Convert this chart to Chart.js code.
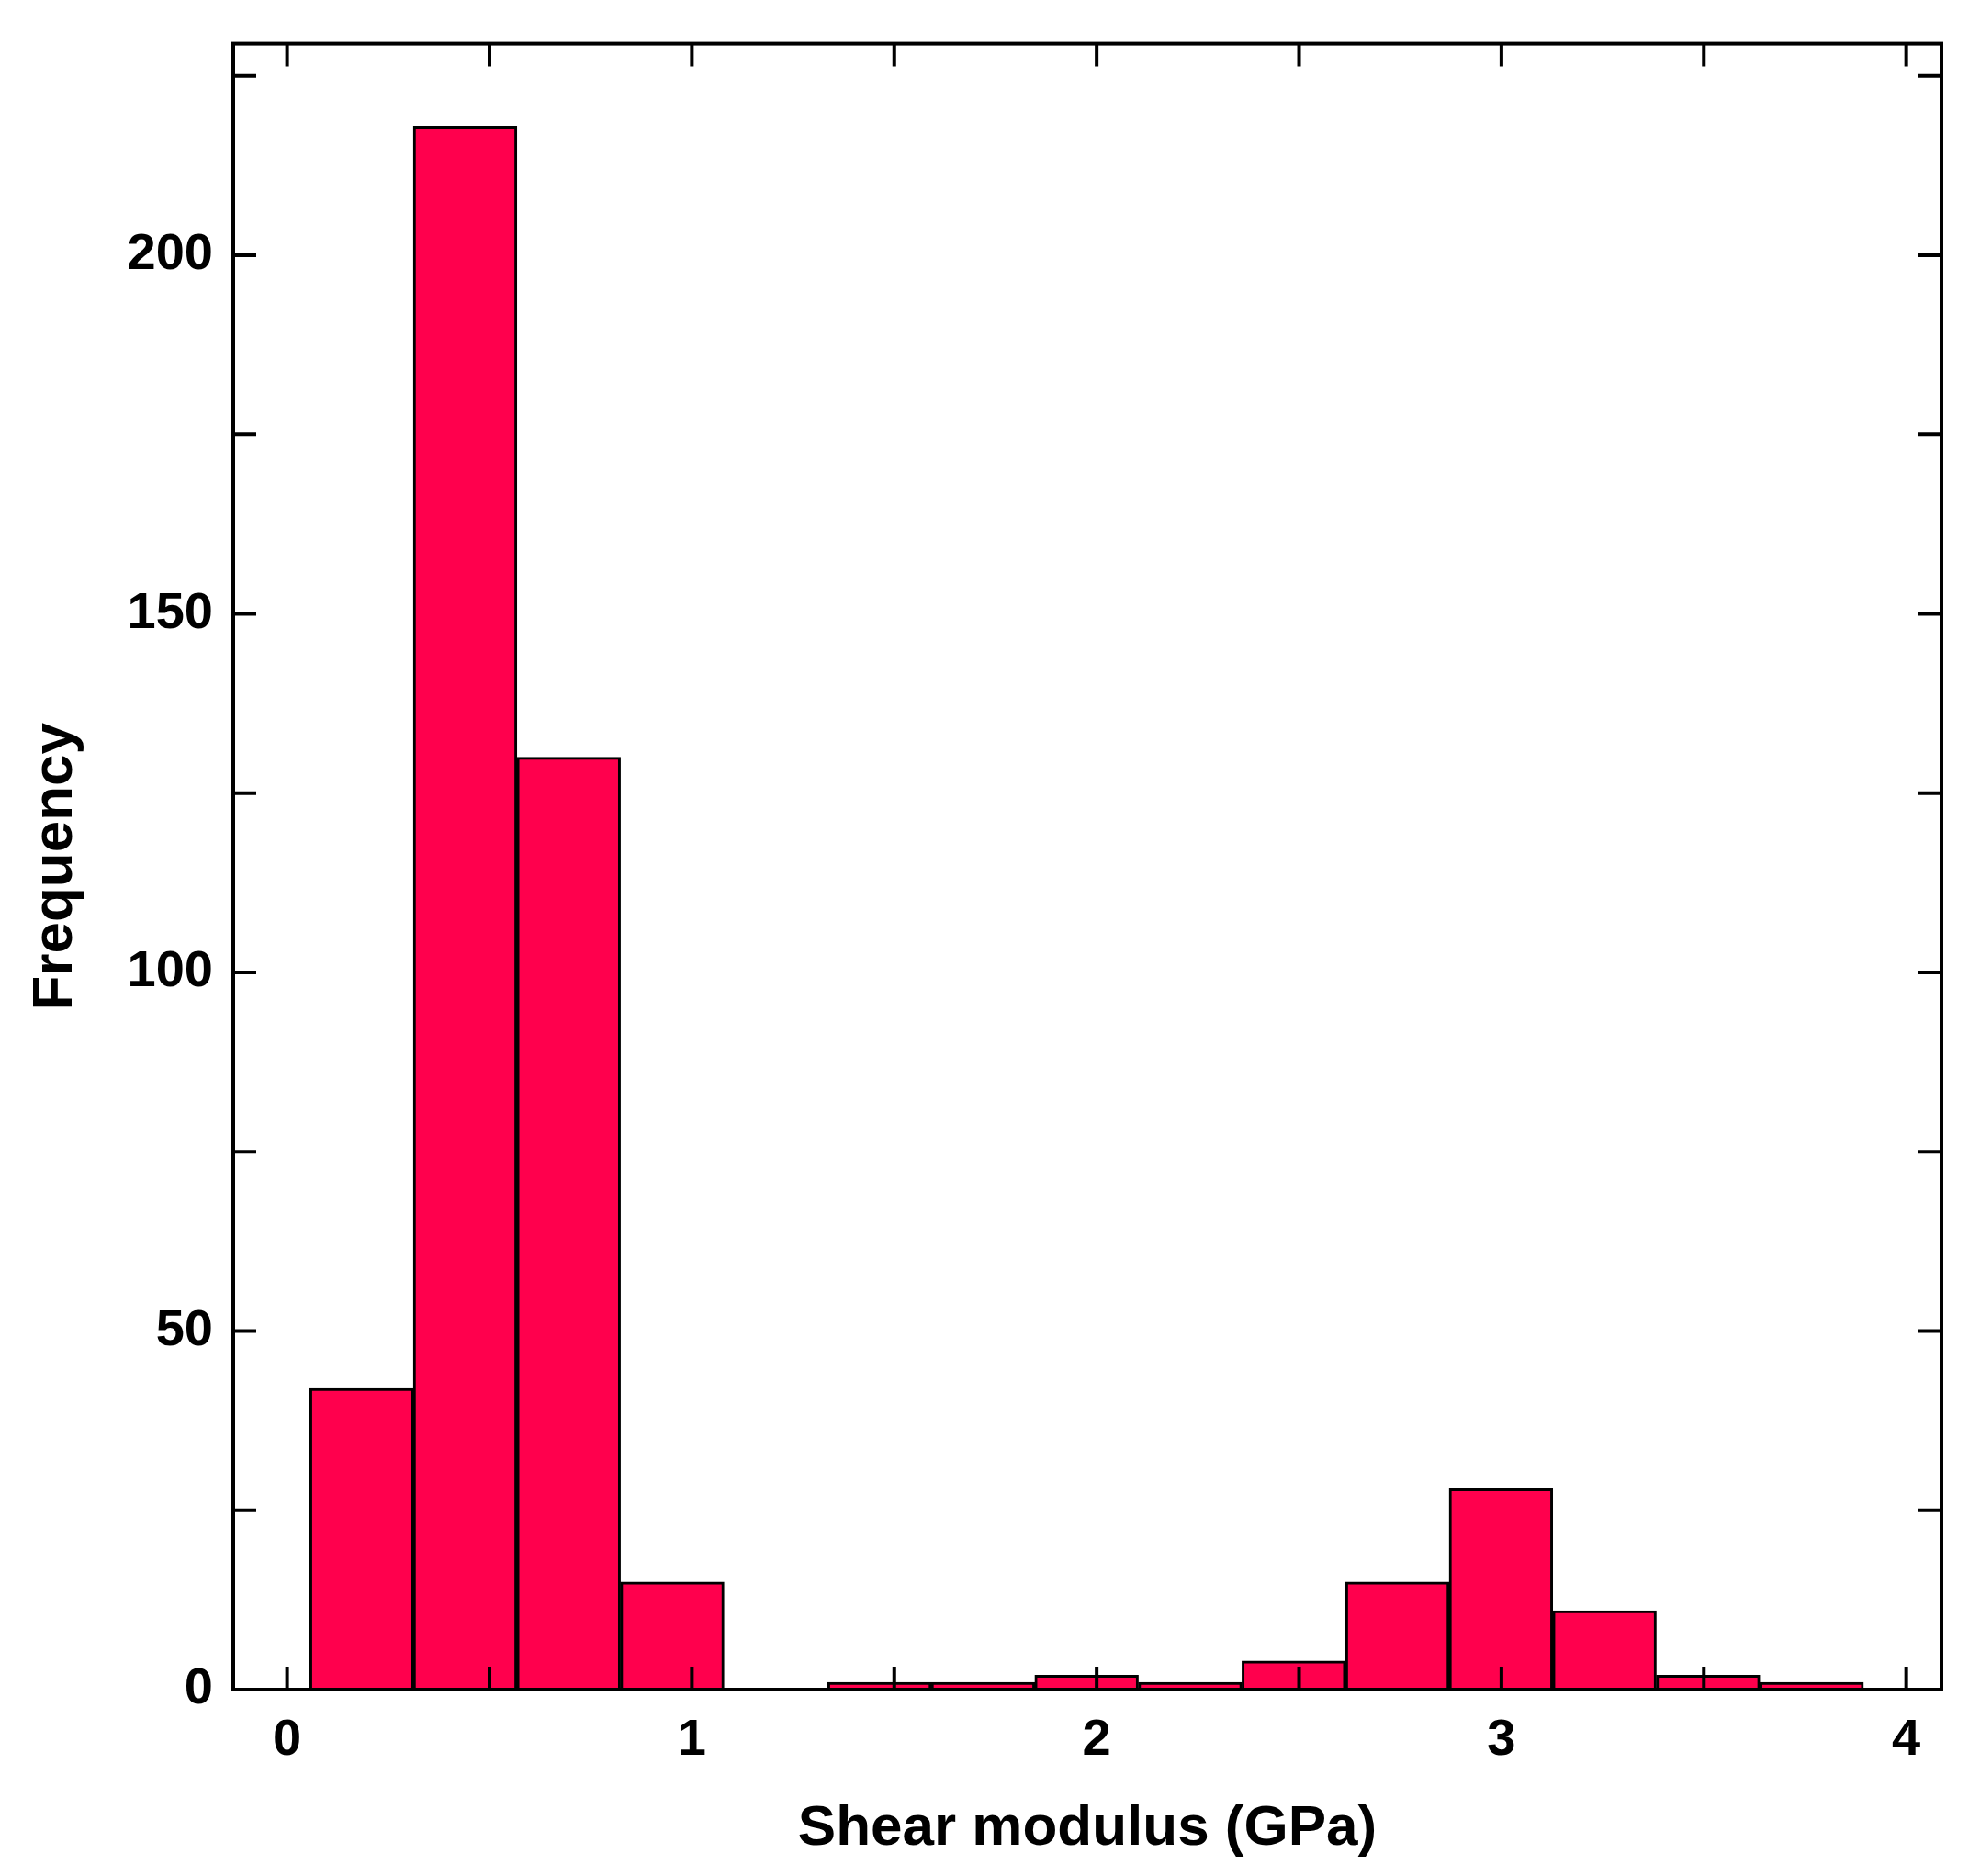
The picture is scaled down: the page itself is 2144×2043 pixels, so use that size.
<!DOCTYPE html>
<html>
<head>
<script src="https://cdn.jsdelivr.net/npm/chart.js@4.4.0/dist/chart.umd.min.js"></script>
<style>
  body { margin: 0; background: #fff; }
  #wrap { width: 2144px; height: 2043px; }
</style>
</head>
<body>
<div id="wrap"><canvas id="hist"></canvas></div>
<script>
const binStart = 0.0559;
const binWidth = 0.2559;
const counts = [42, 218, 130, 15, 0, 1, 1, 2, 1, 4, 15, 28, 11, 2, 1];
const xTickLabels = ['0', '1', '2', '3', '4'];
const yTickLabels = ['0', '50', '100', '150', '200'];

const points = counts.map((c, i) => ({ x: binStart + binWidth * (i + 0.5), y: c }));

// inward ticks on all four sides plus the frame
const frameTicks = {
  id: 'frameTicks',
  afterDraw(chart) {
    const { ctx, chartArea: a, scales: { x, y } } = chart;
    const len = 25;
    ctx.save();
    ctx.strokeStyle = '#000';
    ctx.lineWidth = 4;
    ctx.strokeRect(a.left, a.top, a.right - a.left, a.bottom - a.top);
    ctx.beginPath();
    for (let v = 0; v <= 4; v += 0.5) {
      const px = x.getPixelForValue(v);
      ctx.moveTo(px, a.bottom); ctx.lineTo(px, a.bottom - len);
      ctx.moveTo(px, a.top); ctx.lineTo(px, a.top + len);
    }
    for (let v = 0; v <= 225; v += 25) {
      const py = y.getPixelForValue(v);
      ctx.moveTo(a.left, py); ctx.lineTo(a.left + len, py);
      ctx.moveTo(a.right, py); ctx.lineTo(a.right - len, py);
    }
    ctx.stroke();
    ctx.restore();
  }
};

new Chart(document.getElementById('hist'), {
  type: 'bar',
  plugins: [frameTicks],
  data: {
    datasets: [{
      data: points,
      backgroundColor: '#FF004D',
      borderColor: '#000',
      borderWidth: 3,
      barPercentage: 1,
      categoryPercentage: 1,
      grouped: false
    }]
  },
  options: {
    responsive: true,
    maintainAspectRatio: false,
    animation: false,
    layout: { padding: { top: 26, right: 30, left: 20, bottom: 10 } },
    plugins: { legend: { display: false }, tooltip: { enabled: false } },
    scales: {
      x: {
        type: 'linear',
        min: -0.133,
        max: 4.087,
        offset: false,
        grid: { display: false },
        border: { display: false },
        afterFit(s) { s.height = 193; },
        afterBuildTicks(s) { s.ticks = xTickLabels.map(t => ({ value: Number(t) })); },
        ticks: {
          padding: 14,
          color: '#000',
          font: { family: 'Liberation Sans', size: 56, weight: 'bold' },
          callback: v => xTickLabels.includes(String(v)) ? String(v) : ''
        },
        title: {
          display: true,
          text: 'Shear modulus (GPa)',
          color: '#000',
          padding: { top: 0 },
          font: { family: 'Liberation Sans', size: 62, weight: 'bold' }
        }
      },
      y: {
        min: 0,
        max: 229.5,
        grid: { display: false },
        border: { display: false },
        afterFit(s) { s.width = 234; },
        afterBuildTicks(s) { s.ticks = yTickLabels.map(t => ({ value: Number(t) })); },
        ticks: {
          padding: 14,
          color: '#000',
          font: { family: 'Liberation Sans', size: 56, weight: 'bold' }
        },
        title: {
          display: true,
          text: 'Frequency',
          color: '#000',
          padding: { bottom: 0 },
          font: { family: 'Liberation Sans', size: 62, weight: 'bold' }
        }
      }
    }
  }
});
</script>
</body>
</html>
